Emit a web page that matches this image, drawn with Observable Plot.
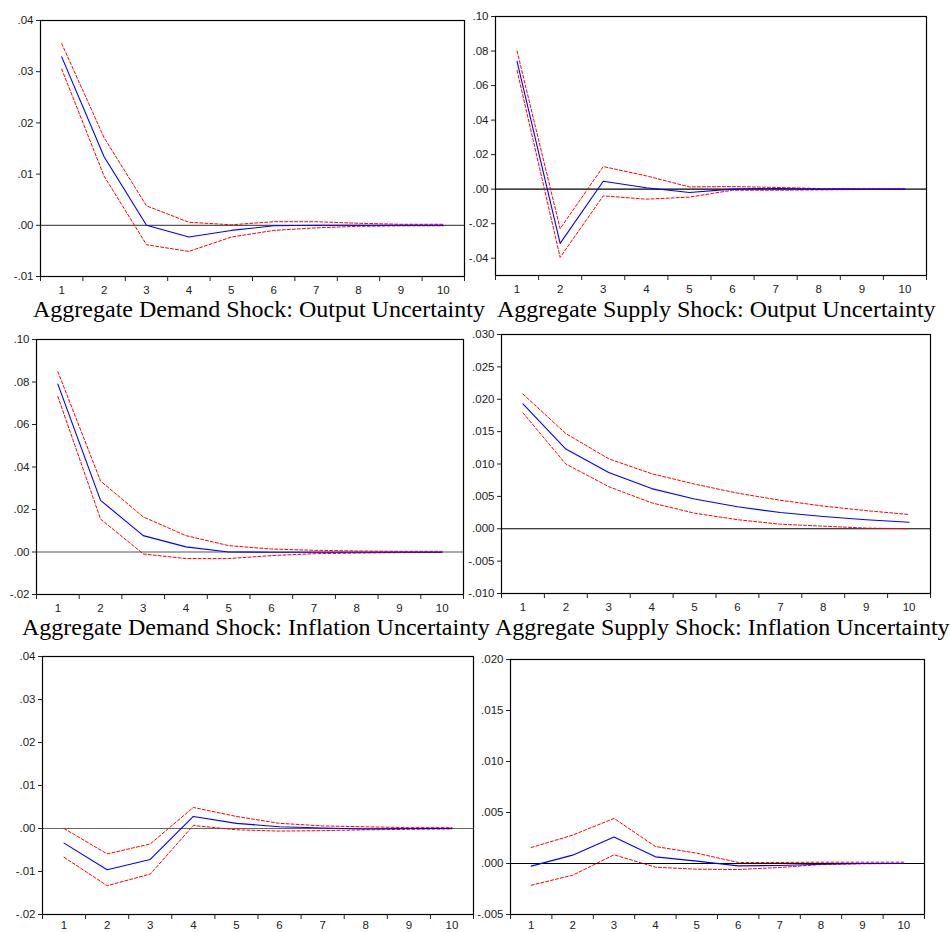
<!DOCTYPE html>
<html>
<head>
<meta charset="utf-8">
<script src="https://cdn.jsdelivr.net/npm/d3@7"></script>
<script src="https://cdn.jsdelivr.net/npm/@observablehq/plot@0.6"></script>
<style>
  html, body { margin: 0; padding: 0; background: #fff; }
  #chart { position: relative; width: 950px; height: 932px; overflow: hidden; background: #fff; }
  .panel { position: absolute; }
  #titles { position: absolute; left: 0; top: 0; pointer-events: none; }
</style>
</head>
<body>
<div id="chart"></div>
<script>
// ---- data ----
const horizons = [1, 2, 3, 4, 5, 6, 7, 8, 9, 10];
const xEdges = [0.5, 1.5, 2.5, 3.5, 4.5, 5.5, 6.5, 7.5, 8.5, 9.5, 10.5];

const titles = [
  "Aggregate Demand Shock: Output Uncertainty",
  "Aggregate Supply Shock: Output Uncertainty",
  "Aggregate Demand Shock: Inflation Uncertainty",
  "Aggregate Supply Shock: Inflation Uncertainty"
];

// Panel 1: Aggregate demand shock -> output uncertainty
const adOutMid = [0.0329, 0.0134, 0.0000, -0.0023, -0.0010, -0.0001, 0.0000, 0.0000, 0.0000, 0.0000];
const adOutUp  = [0.0355, 0.0171, 0.0038, 0.0006, 0.0001, 0.0007, 0.0007, 0.0004, 0.0002, 0.0002];
const adOutLo  = [0.0305, 0.0096, -0.0038, -0.0051, -0.0023, -0.0010, -0.0005, -0.0002, -0.0001, -0.0001];
const adOutTicks = [-0.01, 0.00, 0.01, 0.02, 0.03, 0.04];

// Panel 2: Aggregate supply shock -> output uncertainty
const asOutMid = [0.0740, -0.0314, 0.0046, 0.0008, -0.0019, 0.0000, 0.0004, 0.0000, 0.0000, 0.0000];
const asOutUp  = [0.0800, -0.0229, 0.0131, 0.0077, 0.0013, 0.0015, 0.0010, 0.0004, 0.0002, 0.0002];
const asOutLo  = [0.0688, -0.0395, -0.0039, -0.0058, -0.0046, -0.0006, -0.0006, -0.0004, -0.0002, -0.0002];
const asOutTicks = [-0.04, -0.02, 0.00, 0.02, 0.04, 0.06, 0.08, 0.10];

// Panel 3: Aggregate demand shock -> inflation uncertainty
const adInfMid = [0.0790, 0.0243, 0.0077, 0.0024, 0.0000, -0.0001, -0.0001, -0.0001, -0.0001, -0.0001];
const adInfUp  = [0.0849, 0.0334, 0.0165, 0.0077, 0.0030, 0.0014, 0.0008, 0.0005, 0.0003, 0.0003];
const adInfLo  = [0.0732, 0.0155, -0.0009, -0.0031, -0.0031, -0.0017, -0.0008, -0.0005, -0.0003, -0.0002];
const adInfTicks = [-0.02, 0.00, 0.02, 0.04, 0.06, 0.08, 0.10];

// Panel 4: Aggregate supply shock -> inflation uncertainty
const asInfMid = [0.0193, 0.0123, 0.0087, 0.0062, 0.0046, 0.0034, 0.0025, 0.0019, 0.0014, 0.0010];
const asInfUp  = [0.0208, 0.0147, 0.0108, 0.0085, 0.0069, 0.0055, 0.0044, 0.0035, 0.0028, 0.0022];
const asInfLo  = [0.0179, 0.0100, 0.0065, 0.0040, 0.0024, 0.0014, 0.0007, 0.0004, 0.0001, 0.0000];
const asInfTicks = [-0.010, -0.005, 0.000, 0.005, 0.010, 0.015, 0.020, 0.025, 0.030];

// Panel 5: bottom-left
const p5Mid = [-0.0034, -0.0096, -0.0072, 0.0028, 0.0012, 0.0004, 0.0001, -0.0001, 0.0000, 0.0000];
const p5Up  = [0.0000, -0.0059, -0.0036, 0.0049, 0.0028, 0.0012, 0.0006, 0.0004, 0.0002, 0.0002];
const p5Lo  = [-0.0067, -0.0133, -0.0106, 0.0007, -0.0003, -0.0006, -0.0005, -0.0003, -0.0002, -0.0001];
const p5Ticks = [-0.02, -0.01, 0.00, 0.01, 0.02, 0.03, 0.04];

// Panel 6: bottom-right
const p6Mid = [-0.00026, 0.00082, 0.00259, 0.00065, 0.00023, -0.00023, -0.00020, -0.00007, 0.00000, 0.00000];
const p6Up  = [0.00157, 0.00278, 0.00442, 0.00167, 0.00101, 0.00010, 0.00010, 0.00013, 0.00013, 0.00013];
const p6Lo  = [-0.00213, -0.00115, 0.00085, -0.00036, -0.00056, -0.00059, -0.00039, -0.00010, -0.00003, 0.00000];
const p6Ticks = [-0.005, 0.000, 0.005, 0.010, 0.015, 0.020];

// ---- drawing ----
function fmt(v, digits) {
  const s = (Math.abs(v) < 1e-12 ? 0 : v).toFixed(digits);
  return s.replace(/^(-?)0\./, "$1.");
}

const chart = document.getElementById("chart");

const panels = [
  {fx0: 40,  fx1: 464, fy0: 20,  fy1: 276, dom: [-0.01, 0.04],  ticks: adOutTicks, dig: 2, mid: adOutMid, up: adOutUp, lo: adOutLo, zero: "#555", pad: 9},
  {fx0: 495, fx1: 926, fy0: 16,  fy1: 275, dom: [-0.05, 0.10],  ticks: asOutTicks, dig: 2, mid: asOutMid, up: asOutUp, lo: asOutLo, zero: "#000", pad: 9},
  {fx0: 36,  fx1: 463, fy0: 339, fy1: 594, dom: [-0.02, 0.10],  ticks: adInfTicks, dig: 2, mid: adInfMid, up: adInfUp, lo: adInfLo, zero: "#555", pad: 9},
  {fx0: 501, fx1: 930, fy0: 334, fy1: 593, dom: [-0.010, 0.030], ticks: asInfTicks, dig: 3, mid: asInfMid, up: asInfUp, lo: asInfLo, zero: "#000", pad: 9},
  {fx0: 42,  fx1: 473, fy0: 656, fy1: 914, dom: [-0.02, 0.04],  ticks: p5Ticks, dig: 2, mid: p5Mid, up: p5Up, lo: p5Lo, zero: "#666", pad: 6},
  {fx0: 510, fx1: 924, fy0: 659, fy1: 914, dom: [-0.005, 0.020], ticks: p6Ticks, dig: 3, mid: p6Mid, up: p6Up, lo: p6Lo, zero: "#000", pad: 6}
];

const mL = 46, mR = 6, mT = 8, mB = 18;

panels.forEach(p => {
  const data = horizons.map((h, i) => ({h, mid: p.mid[i], up: p.up[i], lo: p.lo[i]}));
  const svg = Plot.plot({
    width: p.fx1 - p.fx0 + mL + mR,
    height: p.fy1 - p.fy0 + mT + mB,
    marginLeft: mL, marginRight: mR, marginTop: mT, marginBottom: mB,
    x: {domain: [0.5, 10.5]},
    y: {domain: p.dom},
    style: {fontFamily: "'Liberation Sans', Arial, sans-serif", fontSize: "11.5px", color: "#222", background: "transparent", overflow: "visible"},
    marks: [
      Plot.ruleY([0], {stroke: p.zero, strokeWidth: 1.2}),
      Plot.line(data, {x: "h", y: "up", stroke: "#ff0000", strokeWidth: 1, strokeDasharray: "3,2"}),
      Plot.line(data, {x: "h", y: "lo", stroke: "#ff0000", strokeWidth: 1, strokeDasharray: "3,2"}),
      Plot.line(data, {x: "h", y: "mid", stroke: "#0000ff", strokeWidth: 1.1}),
      Plot.frame({stroke: "#000", strokeWidth: 1.2}),
      Plot.axisY({ticks: p.ticks, tickSize: 4, tickPadding: 3, tickFormat: v => fmt(v, p.dig), label: null}),
      Plot.axisX({ticks: xEdges, tickSize: 5, tickFormat: () => "", label: null}),
      Plot.axisX({ticks: horizons, tickSize: 0, tickPadding: p.pad, tickFormat: d => String(d), label: null})
    ]
  });
  const wrap = document.createElement("div");
  wrap.className = "panel";
  wrap.style.left = (p.fx0 - mL) + "px";
  wrap.style.top = (p.fy0 - mT) + "px";
  wrap.appendChild(svg);
  chart.appendChild(wrap);
});

// titles (real text, placed below the top two rows of panels)
const titlePos = [
  {x: 33, y: 317},
  {x: 497, y: 317},
  {x: 22, y: 635},
  {x: 495, y: 635}
];
const tsvg = d3.select(chart).append("svg")
  .attr("id", "titles")
  .attr("width", 950).attr("height", 932);
tsvg.selectAll("text").data(titles).join("text")
  .attr("x", (d, i) => titlePos[i].x)
  .attr("y", (d, i) => titlePos[i].y)
  .attr("font-family", "'Liberation Serif', 'Times New Roman', serif")
  .attr("font-size", 24)
  .attr("fill", "#000")
  .text(d => d);
</script>
</body>
</html>
